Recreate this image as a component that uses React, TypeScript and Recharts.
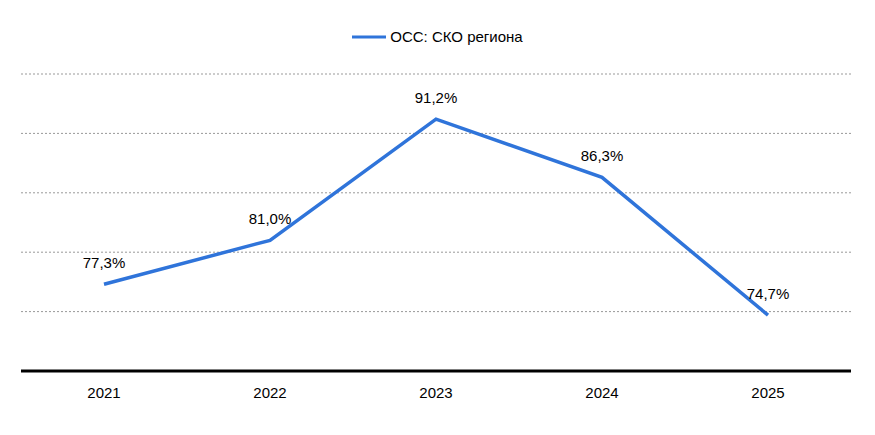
import React from "react";
import { LineChart, Line, XAxis, YAxis, CartesianGrid, LabelList } from "recharts";

const years = ["2021", "2022", "2023", "2024", "2025"];
const values = [77.3, 81.0, 91.2, 86.3, 74.7];
const yTicks = [70, 75, 80, 85, 90, 95];
const seriesName = "ОСС: СКО региона";
const color = "#2F74DA";
const font = "'Liberation Sans Narrow', 'Arial Narrow', 'Liberation Sans', Arial, sans-serif";

const data = years.map((y, i) => ({ year: y, v: values[i] }));

export default function App() {
  return (
    <div style={{ position: "absolute", left: 0, top: 0, width: 875, height: 435, background: "#fff" }}>
      <div style={{ position: "absolute", top: 28, left: 0, width: 875, display: "flex", justifyContent: "center", alignItems: "center", fontFamily: font, fontSize: 15, color: "#000" }}>
        <svg width={34} height={10} style={{ marginRight: 4 }}>
          <line x1={0} y1={5} x2={34} y2={5} stroke={color} strokeWidth={3} />
        </svg>
        <span>{seriesName}</span>
      </div>
      <LineChart width={875} height={435} data={data} margin={{ top: 74, right: 24, left: 21, bottom: 0 }}>
        <CartesianGrid vertical={false} stroke="#999" strokeDasharray="2 2" />
        <YAxis hide domain={[70, 95]} ticks={yTicks} />
        <XAxis
          dataKey="year"
          height={64}
          tickLine={false}
          padding={{ left: 83, right: 83 }}
          axisLine={{ stroke: "#000", strokeWidth: 3 }}
          tick={{ fill: "#000", fontSize: 15, fontFamily: font }}
          tickMargin={10}
        />
        <Line
          dataKey="v"
          name={seriesName}
          stroke={color}
          strokeWidth={3.5}
          dot={false}
          isAnimationActive={false}
        >
          <LabelList
            dataKey="v"
            position="top"
            offset={16}
            formatter={(v: number) => v.toFixed(1).replace(".", ",") + "%"}
            style={{ fill: "#000", fontSize: 15, fontFamily: font }}
          />
        </Line>
      </LineChart>
    </div>
  );
}
